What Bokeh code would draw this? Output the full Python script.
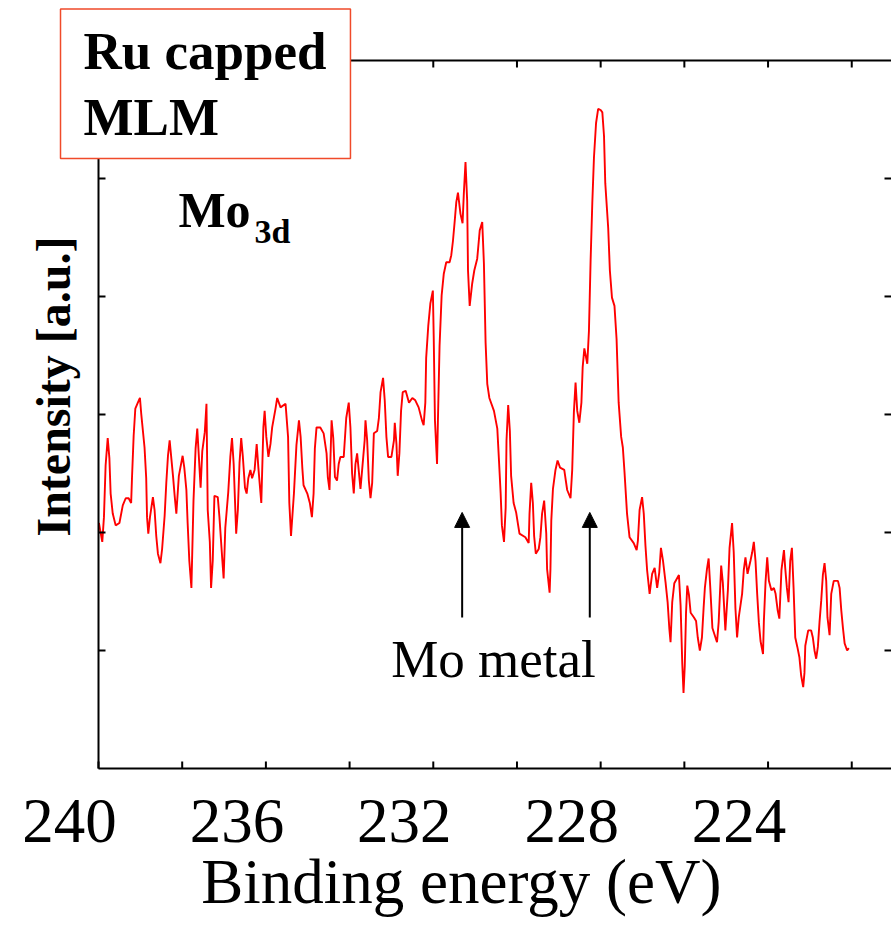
from math import pi
from bokeh.plotting import figure
from bokeh.models import Range1d, Label, Arrow, NormalHead, BoxAnnotation
from bokeh.embed import file_html
from bokeh.resources import INLINE

# ---------------- data ----------------
energy = [
    239.99, 239.91, 239.87, 239.83, 239.78, 239.74, 239.71, 239.66, 239.59, 239.50,
    239.42, 239.35, 239.28, 239.22, 239.20, 239.16, 239.12, 239.06, 239.01, 238.98,
    238.90, 238.86, 238.84, 238.81, 238.77, 238.70, 238.66, 238.62, 238.58, 238.52,
    238.48, 238.42, 238.38, 238.34, 238.30, 238.22, 238.18, 238.14, 238.08, 237.99,
    237.95, 237.90, 237.87, 237.83, 237.78, 237.73, 237.68, 237.64, 237.56, 237.52,
    237.46, 237.42, 237.39, 237.34, 237.31, 237.27, 237.23, 237.15, 237.11, 237.04,
    237.01, 236.97, 236.90, 236.85, 236.81, 236.77, 236.71, 236.67, 236.63, 236.59,
    236.55, 236.50, 236.46, 236.42, 236.37, 236.33, 236.27, 236.22, 236.18, 236.11,
    236.06, 236.03, 235.99, 235.94, 235.89, 235.85, 235.77, 235.73, 235.65, 235.53,
    235.47, 235.44, 235.40, 235.33, 235.27, 235.21, 235.17, 235.13, 235.10, 235.01,
    234.95, 234.90, 234.86, 234.83, 234.79, 234.70, 234.62, 234.55, 234.52, 234.48,
    234.43, 234.39, 234.35, 234.30, 234.26, 234.22, 234.14, 234.08, 234.02, 233.98,
    233.94, 233.90, 233.86, 233.82, 233.74, 233.70, 233.64, 233.62, 233.58, 233.54,
    233.50, 233.46, 233.42, 233.34, 233.30, 233.26, 233.20, 233.16, 233.12, 233.08,
    233.00, 232.94, 232.92, 232.88, 232.85, 232.81, 232.77, 232.73, 232.66, 232.58,
    232.50, 232.43, 232.35, 232.27, 232.23, 232.19, 232.17, 232.12, 232.07, 232.01,
    231.99, 231.96, 231.91, 231.89, 231.85, 231.80, 231.75, 231.69, 231.61, 231.57,
    231.53, 231.49, 231.45, 231.41, 231.35, 231.30, 231.27, 231.23, 231.19, 231.17,
    231.13, 231.07, 231.02, 230.95, 230.89, 230.83, 230.79, 230.75, 230.71, 230.66,
    230.55, 230.47, 230.43, 230.39, 230.36, 230.31, 230.27, 230.25, 230.21, 230.17,
    230.14, 230.08, 230.02, 229.98, 229.94, 229.80, 229.72, 229.70, 229.66, 229.62,
    229.59, 229.55, 229.48, 229.44, 229.40, 229.35, 229.30, 229.28, 229.22, 229.20,
    229.18, 229.14, 229.08, 229.03, 228.97, 228.87, 228.80, 228.72, 228.68, 228.64,
    228.60, 228.56, 228.51, 228.46, 228.43, 228.39, 228.32, 228.28, 228.24, 228.20,
    228.16, 228.11, 228.06, 228.00, 227.96, 227.92, 227.89, 227.82, 227.78, 227.73,
    227.67, 227.62, 227.57, 227.51, 227.47, 227.43, 227.37, 227.31, 227.21, 227.14,
    227.11, 227.07, 227.01, 226.97, 226.93, 226.89, 226.83, 226.77, 226.71, 226.65,
    226.60, 226.56, 226.51, 226.45, 226.40, 226.36, 226.33, 226.29, 226.24, 226.13,
    226.09, 226.05, 226.02, 225.99, 225.96, 225.93, 225.89, 225.85, 225.77, 225.72,
    225.68, 225.63, 225.58, 225.54, 225.51, 225.46, 225.42, 225.38, 225.33, 225.22,
    225.18, 225.12, 225.08, 225.02, 224.96, 224.92, 224.86, 224.82, 224.78, 224.74,
    224.70, 224.62, 224.58, 224.54, 224.49, 224.42, 224.38, 224.34, 224.30, 224.26,
    224.22, 224.18, 224.12, 224.10, 224.06, 224.02, 223.98, 223.92, 223.86, 223.82,
    223.77, 223.73, 223.68, 223.62, 223.59, 223.55, 223.51, 223.47, 223.43, 223.39,
    223.35, 223.30, 223.25, 223.21, 223.16, 223.13, 223.11, 223.04, 222.97, 222.93,
    222.89, 222.85, 222.81, 222.77, 222.73, 222.69, 222.65, 222.61, 222.58, 222.53,
    222.49, 222.43, 222.33, 222.29, 222.25, 222.21, 222.17, 222.11, 222.07,
]
intensity = [
    2.08, 1.92, 2.13, 2.57, 2.80, 2.63, 2.33, 2.16, 2.06, 2.08,
    2.23, 2.29, 2.29, 2.25, 2.46, 2.82, 3.05, 3.10, 3.14, 3.01,
    2.72, 2.46, 2.13, 1.99, 2.13, 2.30, 2.19, 1.97, 1.82, 1.74,
    1.86, 2.14, 2.42, 2.65, 2.78, 2.48, 2.31, 2.16, 2.48, 2.65,
    2.55, 2.36, 2.08, 1.76, 1.53, 2.27, 2.71, 2.88, 2.38, 2.69,
    2.85, 3.09, 2.19, 1.92, 1.53, 1.76, 2.31, 2.30, 2.13, 1.76,
    1.61, 2.04, 2.34, 2.64, 2.80, 2.58, 1.99, 2.19, 2.59, 2.80,
    2.64, 2.38, 2.33, 2.46, 2.53, 2.46, 2.53, 2.75, 2.55, 2.25,
    2.89, 3.03, 2.81, 2.64, 2.75, 2.89, 3.05, 3.14, 3.06, 3.09,
    2.81, 2.25, 1.97, 2.33, 2.74, 2.95, 2.81, 2.55, 2.40, 2.33,
    2.25, 2.13, 2.33, 2.71, 2.89, 2.89, 2.84, 2.67, 2.47, 2.36,
    2.95, 2.80, 2.47, 2.44, 2.58, 2.64, 2.64, 2.97, 3.10, 2.89,
    2.50, 2.33, 2.58, 2.67, 2.37, 2.53, 2.78, 2.95, 2.78, 2.44,
    2.29, 2.42, 2.84, 2.86, 2.97, 3.19, 3.31, 3.12, 2.81, 2.64,
    2.64, 2.78, 2.93, 2.75, 2.48, 2.67, 3.03, 3.19, 3.20, 3.10,
    3.14, 3.12, 3.06, 2.95, 2.91, 3.10, 3.48, 3.75, 3.94, 4.05,
    3.67, 2.95, 2.58, 2.93, 3.58, 4.01, 4.19, 4.29, 4.29, 4.35,
    4.47, 4.63, 4.80, 4.88, 4.70, 4.62, 4.87, 5.14, 4.81, 4.22,
    3.92, 4.11, 4.22, 4.32, 4.56, 4.63, 4.28, 3.61, 3.26, 3.14,
    3.03, 2.88, 2.61, 2.33, 2.06, 1.92, 2.21, 2.78, 3.08, 2.86,
    2.48, 2.25, 2.17, 2.08, 1.99, 1.96, 1.91, 2.16, 2.42, 2.25,
    1.97, 1.82, 1.86, 1.96, 2.16, 2.27, 1.99, 1.69, 1.49, 1.69,
    2.10, 2.37, 2.53, 2.61, 2.55, 2.53, 2.36, 2.29, 2.53, 3.02,
    3.27, 3.03, 2.93, 3.10, 3.40, 3.56, 3.43, 3.71, 4.31, 4.79,
    5.18, 5.47, 5.59, 5.58, 5.56, 5.36, 4.96, 4.58, 4.22, 3.99,
    3.92, 3.64, 3.10, 2.81, 2.72, 2.51, 2.16, 1.96, 1.91, 1.85,
    1.93, 2.19, 2.30, 2.16, 1.89, 1.68, 1.48, 1.65, 1.70, 1.53,
    1.66, 1.87, 1.76, 1.58, 1.41, 1.19, 1.07, 1.41, 1.57, 1.64,
    1.38, 0.89, 0.64, 0.87, 1.32, 1.55, 1.47, 1.32, 1.28, 1.25,
    1.11, 1.00, 1.11, 1.36, 1.53, 1.69, 1.78, 1.53, 1.19, 1.07,
    1.24, 1.72, 1.57, 1.17, 1.51, 1.87, 2.08, 1.83, 1.36, 1.11,
    1.28, 1.48, 1.68, 1.79, 1.65, 1.76, 1.83, 1.92, 1.76, 1.48,
    1.24, 1.08, 0.97, 1.25, 1.58, 1.79, 1.59, 1.51, 1.53, 1.48,
    1.34, 1.27, 1.68, 1.85, 1.70, 1.53, 1.41, 1.76, 1.87, 1.53,
    1.11, 1.03, 0.94, 0.79, 0.69, 0.81, 1.04, 1.17, 1.17, 1.11,
    1.00, 0.93, 1.03, 1.24, 1.42, 1.64, 1.74, 1.59, 1.28, 1.13,
    1.48, 1.59, 1.59, 1.53, 1.34, 1.19, 1.06, 1.00, 1.02,
]

x_ticks = [240, 238, 236, 234, 232, 230, 228, 226, 224, 222]
x_tick_labels = [240, 236, 232, 228, 224]
y_ticks = [1, 2, 3, 4, 5]
arrow_energies = [231.31, 228.26]
arrow_from, arrow_to = 1.28, 2.17

# axis box (data units) and the visible window
X_LEFT, X_RIGHT = 240.0, 221.05
Y_BOTTOM, Y_TOP = 0.0, 6.0
VIEW_X = (242.342, 221.05)
VIEW_Y = (-1.356, 6.508)

SERIF = "Liberation Serif"

p = figure(width=891, height=928, title=None,
           x_range=Range1d(*VIEW_X), y_range=Range1d(*VIEW_Y),
           output_backend="svg", toolbar_location=None,
           x_axis_location=None, y_axis_location=None,
           min_border_left=0, min_border_top=0, min_border_bottom=0,
           min_border_right=0, outline_line_color=None,
           background_fill_color="white", border_fill_color="white")
p.grid.visible = False

# spectrum
p.line(energy, intensity, line_color="#ff0000", line_width=1.9)

# axis frame (left, bottom, top spines)
p.segment(x0=[X_LEFT, X_LEFT, X_LEFT], y0=[Y_BOTTOM, Y_TOP, Y_BOTTOM],
          x1=[X_RIGHT, X_RIGHT, X_LEFT], y1=[Y_BOTTOM, Y_TOP, Y_TOP],
          line_color="black", line_width=2)

# inward ticks
TICK = 7
p.ray(x=x_ticks, y=[Y_BOTTOM] * len(x_ticks), length=TICK, length_units="screen",
      angle=pi / 2, line_color="black", line_width=2)
p.ray(x=x_ticks, y=[Y_TOP] * len(x_ticks), length=TICK, length_units="screen",
      angle=-pi / 2, line_color="black", line_width=2)
p.ray(x=[X_LEFT] * len(y_ticks), y=y_ticks, length=TICK, length_units="screen",
      angle=0, line_color="black", line_width=2)
p.ray(x=[X_RIGHT] * len(y_ticks), y=y_ticks, length=TICK, length_units="screen",
      angle=pi, line_color="black", line_width=2)

# arrows
for e in arrow_energies:
    p.add_layout(Arrow(end=NormalHead(size=15, fill_color="black", line_color="black"),
                       x_start=e, y_start=arrow_from, x_end=e, y_end=arrow_to,
                       line_width=2, line_color="black"))

# tick labels (set slightly left of their ticks, as in the figure)
for v in x_tick_labels:
    p.add_layout(Label(x=v, y=-0.441, x_offset=-29,
                       text=str(v), text_font=SERIF, text_font_size="63px",
                       text_color="black",
                       text_align="center", text_baseline="alphabetic"))

p.add_layout(Label(x=231.33, y=-0.966,
                   text="Binding energy (eV)", text_font=SERIF, text_font_size="63px",
                   text_color="black",
                   text_align="center", text_baseline="alphabetic"))

p.add_layout(Label(x=241.087, y=3.237, angle=pi / 2,
                   text="Intensity [a.u.]", text_font=SERIF, text_font_style="bold",
                   text_font_size="48px", text_color="black",
                   text_align="center", text_baseline="middle"))

p.add_layout(Label(x=238.09, y=4.729,
                   text="Mo", text_font=SERIF, text_font_style="bold",
                   text_font_size="50px", text_color="black",
                   text_align="left", text_baseline="alphabetic"))
p.add_layout(Label(x=236.27, y=4.551,
                   text="3d", text_font=SERIF, text_font_style="bold",
                   text_font_size="34px", text_color="black",
                   text_align="left", text_baseline="alphabetic"))

p.add_layout(Label(x=230.56, y=0.932,
                   text="Mo metal", text_font=SERIF, text_font_size="53px",
                   text_color="black",
                   text_align="center", text_baseline="alphabetic"))

# sample-name box in the top-left corner
p.add_layout(BoxAnnotation(left=240.908, right=233.979, top=6.436, bottom=5.169,
                           fill_color="white", fill_alpha=1.0,
                           line_color="#f04a2a", line_width=1.5, line_alpha=1.0))
for txt, yy in [("Ru capped", 6.076), ("MLM", 5.525)]:
    p.add_layout(Label(x=240.358, y=yy, text=txt, text_font=SERIF,
                       text_font_style="bold", text_font_size="53px",
                       text_color="black", text_align="left",
                       text_baseline="alphabetic"))

open("out.html", "w").write(file_html(p, INLINE))
